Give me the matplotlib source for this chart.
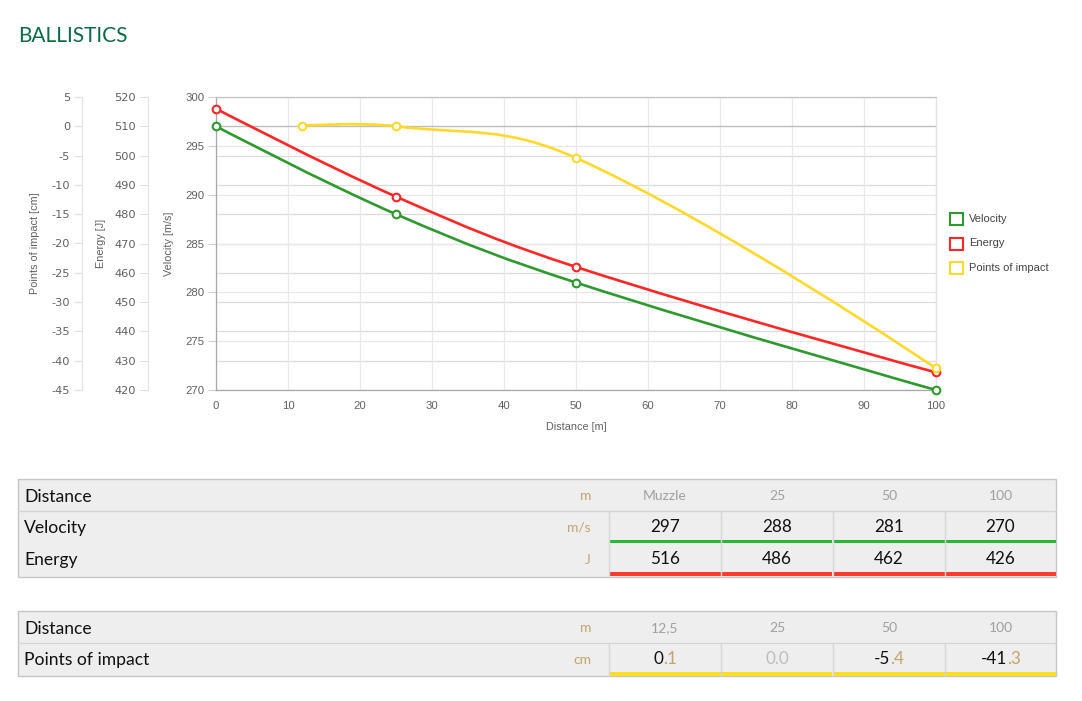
import matplotlib
matplotlib.use("Agg")
import matplotlib.pyplot as plt
from matplotlib.path import Path
from matplotlib.patches import PathPatch, Rectangle
from matplotlib.transforms import blended_transform_factory
from matplotlib.lines import Line2D

plt.rcParams["axes.unicode_minus"] = False

# ---------------- data ----------------
title = "BALLISTICS"
series_names = ["Velocity", "Energy", "Points of impact"]
colors = ["#2e9a2e", "#ff2626", "#ffd92a"]

dist_main = [0, 25, 50, 100]
velocity = [297, 288, 281, 270]
energy = [516, 486, 462, 426]
dist_poi = [12, 25, 50, 100]
poi = [0.1, 0.0, -5.4, -41.3]

x_ticks = list(range(0, 101, 10))
vel_ticks = [270, 275, 280, 285, 290, 295, 300]
en_ticks = list(range(420, 521, 10))
poi_ticks = list(range(-45, 6, 5))

x_label = "Distance [m]"
vel_label = "Velocity [m/s]"
en_label = "Energy [J]"
poi_label = "Points of impact [cm]"

t1_header = ["Muzzle", "25", "50", "100"]
t2_header = ["12,5", "25", "50", "100"]
t1_rows = ["Distance", "Velocity", "Energy"]
t1_units = ["m", "m/s", "J"]
t2_rows = ["Distance", "Points of impact"]
t2_units = ["m", "cm"]

W, H = 1082, 701
fig = plt.figure(figsize=(W / 100, H / 100), dpi=100)
fig.patch.set_facecolor("white")

CHART_FONT = ["Liberation Sans", "DejaVu Sans"]
TABLE_FONT = ["Lato", "DejaVu Sans"]

def fx(x):
    return x / W

def fy(y):
    return 1 - y / H

# ---------------- spline (Highcharts-like) ----------------
def hc_spline(xs, ys, smoothing=1.5):
    denom = smoothing + 1
    n = len(xs)
    verts = [(xs[0], ys[0])]
    codes = [Path.MOVETO]
    right_prev = (xs[0], ys[0])
    for i in range(1, n):
        px, py = xs[i], ys[i]
        lx, ly = xs[i - 1], ys[i - 1]
        if i < n - 1:
            nx, ny = xs[i + 1], ys[i + 1]
            lcx = (smoothing * px + lx) / denom
            lcy = (smoothing * py + ly) / denom
            rcx = (smoothing * px + nx) / denom
            rcy = (smoothing * py + ny) / denom
            corr = (rcy - lcy) * (rcx - px) / (rcx - lcx) + py - rcy
            lcy += corr
            rcy += corr
        else:
            lcx, lcy, rcx, rcy = px, py, px, py
        verts += [right_prev, (lcx, lcy), (px, py)]
        codes += [Path.CURVE4] * 3
        right_prev = (rcx, rcy)
    return Path(verts, codes)

# ---------------- axes ----------------
L, R, T, B = 216, 936, 97, 390
rect = [fx(L), fy(B), (R - L) / W, (B - T) / H]
ax = fig.add_axes(rect)
ax_e = ax.twinx()
ax_p = ax.twinx()
ax.set_zorder(1)
ax_e.set_zorder(2)
ax_p.set_zorder(3)
for a in (ax_e, ax_p):
    a.patch.set_visible(False)

ax.set_xlim(0, 100)
ax.set_ylim(270, 300)
ax_e.set_ylim(420, 520)
ax_p.set_ylim(-45, 5)

ax.set_xticks(x_ticks)
ax.set_yticks(vel_ticks)
ax_e.set_yticks(en_ticks)
ax_p.set_yticks(poi_ticks)

TICK_FS = 8.2
for a in (ax, ax_e, ax_p):
    for lab in a.get_yticklabels() + a.get_xticklabels():
        lab.set_family(CHART_FONT)

ax.tick_params(axis="x", length=0, pad=8, labelsize=TICK_FS, labelcolor="#606060")
ax.tick_params(axis="y", length=6, width=0.8, color="#d0d0d0", pad=2.5,
               labelsize=TICK_FS, labelcolor="#606060")
for a in (ax_e, ax_p):
    a.yaxis.set_ticks_position("left")
    a.yaxis.set_label_position("left")
    a.tick_params(axis="y", length=6, width=0.8, color="#e0e0e0", pad=2.5,
                  labelsize=TICK_FS, labelcolor="#606060")
    for s in ("right", "top", "bottom"):
        a.spines[s].set_visible(False)
    a.spines["left"].set_color("#e2e2e2")
    a.spines["left"].set_linewidth(0.8)
ax_e.spines["left"].set_position(("axes", (148 - L) / (R - L)))
ax_p.spines["left"].set_position(("axes", (82 - L) / (R - L)))

for s in ("left", "bottom"):
    ax.spines[s].set_color("#a8a8a8")
    ax.spines[s].set_linewidth(0.9)
ax.spines["top"].set_color("#c4c4c4")
ax.spines["top"].set_linewidth(0.9)
ax.spines["right"].set_color("#e2e2e2")
ax.spines["right"].set_linewidth(0.9)

# grid
ax.grid(True, axis="both", color="#e8e8e8", linewidth=0.9, zorder=0)
ax.set_axisbelow(True)
tr_e = blended_transform_factory(ax.transAxes, ax_e.transData)
ax.hlines(en_ticks, 0, 1, transform=tr_e, colors="#dcdcdc", linewidth=0.9, zorder=0.5)
tr_p = blended_transform_factory(ax.transAxes, ax_p.transData)
ax.hlines([0], 0, 1, transform=tr_p, colors="#bdbdbd", linewidth=0.9, zorder=0.6)

# labels
lab_kw = dict(fontsize=7.8, color="#606060", family=CHART_FONT)
ax.set_ylabel(vel_label, **lab_kw)
ax_e.set_ylabel(en_label, **lab_kw)
ax_p.set_ylabel(poi_label, **lab_kw)
ax.yaxis.set_label_coords((174 - L) / (R - L), 0.5)
ax_e.yaxis.set_label_coords((106 - L) / (R - L), 0.5)
ax_p.yaxis.set_label_coords((40 - L) / (R - L), 0.5)
ax.set_xlabel(x_label, **lab_kw)
ax.xaxis.set_label_coords(0.5, -(427 - B) / (B - T))
ax.xaxis.label.set_va("center")

# series
for a, xs, ys, c in ((ax, dist_main, velocity, colors[0]),
                     (ax_e, dist_main, energy, colors[1]),
                     (ax_p, dist_poi, poi, colors[2])):
    a.add_patch(PathPatch(hc_spline(xs, ys), fill=False, edgecolor=c,
                          linewidth=1.9, zorder=3, clip_on=False))
    a.plot(xs, ys, "o", mfc="white", mec=c, ms=5.5, mew=1.5, zorder=4, clip_on=False)

# legend (manual)
for i, (name, c) in enumerate(zip(series_names, colors)):
    yc = 219 + 24.5 * i
    fig.patches.append(Rectangle((fx(950), fy(yc + 6)), 13 / W, 12 / H,
                                 transform=fig.transFigure, facecolor="white",
                                 edgecolor=c, linewidth=1.5))
    fig.text(fx(969), fy(yc), name, fontsize=8.0, color="#444444",
             va="center", ha="left", family=CHART_FONT)

# title
fig.text(fx(18), fy(36), title, fontsize=15, color="#0c6b45",
         va="center", ha="left", family=TABLE_FONT)

# ---------------- tables ----------------
TL, TR = 18, 1056
cells_x = [609, 721, 833, 945, 1056]
BG = "#eeeeee"
BORDER = "#c6c6c6"
SEP = "#d6d6d6"
TAN = "#c3a46e"

def frect(x0, y0, x1, y1, **kw):
    fig.patches.append(Rectangle((fx(x0), fy(y1)), (x1 - x0) / W, (y1 - y0) / H,
                                 transform=fig.transFigure, **kw))

def fline(x0, y0, x1, y1, **kw):
    fig.lines.append(Line2D([fx(x0), fx(x1)], [fy(y0), fy(y1)],
                            transform=fig.transFigure, **kw))

def label_cell(y, text, unit):
    fig.text(fx(24), fy(y + 1.5), text, fontsize=12.6, color="#111111", va="center",
             ha="left", family=TABLE_FONT)
    fig.text(fx(591), fy(y + 1.5), unit, fontsize=10, color=TAN, va="center",
             ha="right", family=TABLE_FONT)

def header_values(y, vals):
    for i, v in enumerate(vals):
        xc = (cells_x[i] + cells_x[i + 1]) / 2
        fig.text(fx(xc), fy(y + 1.5), v, fontsize=10, color="#a0a0a0", va="center",
                 ha="center", family=TABLE_FONT)

VAL_FS = 12.3

# table 1
t1_top, t1_hdr, t1_mid, t1_bot = 479, 511, 542, 577
frect(TL, t1_top, TR, t1_bot, facecolor=BG, edgecolor=BORDER, linewidth=1.0)
fline(TL, t1_hdr, TR, t1_hdr, color=SEP, linewidth=1.0)
for xv in cells_x[:-1]:
    fline(xv, t1_hdr, xv, t1_bot, color=SEP, linewidth=1.0)
label_cell(495, t1_rows[0], t1_units[0])
label_cell(526, t1_rows[1], t1_units[1])
label_cell(558, t1_rows[2], t1_units[2])
header_values(495, t1_header)
for i in range(4):
    x0, x1 = cells_x[i] + 0.5, cells_x[i + 1] - 0.5
    xc = (cells_x[i] + cells_x[i + 1]) / 2
    fig.text(fx(xc), fy(526.5), str(velocity[i]), fontsize=VAL_FS, color="#111111",
             va="center", ha="center", family=TABLE_FONT)
    fig.text(fx(xc), fy(558.5), str(energy[i]), fontsize=VAL_FS, color="#111111",
             va="center", ha="center", family=TABLE_FONT)
    frect(x0, 539.5, x1, 542.5, facecolor="#22bb33", edgecolor="none")
    frect(x0, 572, x1, 576, facecolor="#ff3a2e", edgecolor="none")

# table 2
t2_top, t2_hdr, t2_bot = 611, 643, 676
frect(TL, t2_top, TR, t2_bot, facecolor=BG, edgecolor=BORDER, linewidth=1.0)
fline(TL, t2_hdr, TR, t2_hdr, color=SEP, linewidth=1.0)
for xv in cells_x[:-1]:
    fline(xv, t2_hdr, xv, t2_bot, color=SEP, linewidth=1.0)
label_cell(627, t2_rows[0], t2_units[0])
label_cell(658, t2_rows[1], t2_units[1])
header_values(627, t2_header)

renderer = fig.canvas.get_renderer()
for i, v in enumerate(poi):
    x0, x1 = cells_x[i] + 0.5, cells_x[i + 1] - 0.5
    xc = (cells_x[i] + cells_x[i + 1]) / 2
    s = f"{v:.1f}"
    ip, dp = s.split(".")
    dp = "." + dp
    yv = 658.5
    if v == 0:
        fig.text(fx(xc), fy(yv), s, fontsize=VAL_FS, color="#bdbdbd", va="center",
                 ha="center", family=TABLE_FONT)
    else:
        # full string in black, decimal part overdrawn in tan (right-aligned)
        t_full = fig.text(fx(xc), fy(yv), s, fontsize=VAL_FS, family=TABLE_FONT,
                          color="#111111", va="center", ha="center")
        wf = t_full.get_window_extent(renderer)
        right_px = wf.x1
        # draw int part black and decimal part tan separately, aligned by full-string box
        t_full.set_visible(False)
        fig.text(wf.x0 / W, fy(yv), ip, fontsize=VAL_FS, family=TABLE_FONT,
                 color="#111111", va="center", ha="left")
        fig.text(right_px / W, fy(yv), dp, fontsize=VAL_FS, family=TABLE_FONT,
                 color=TAN, va="center", ha="right")
    frect(x0, 672, x1, 676, facecolor="#ffdd22", edgecolor="none")

fig.savefig("out.png", dpi=100, facecolor="white")
